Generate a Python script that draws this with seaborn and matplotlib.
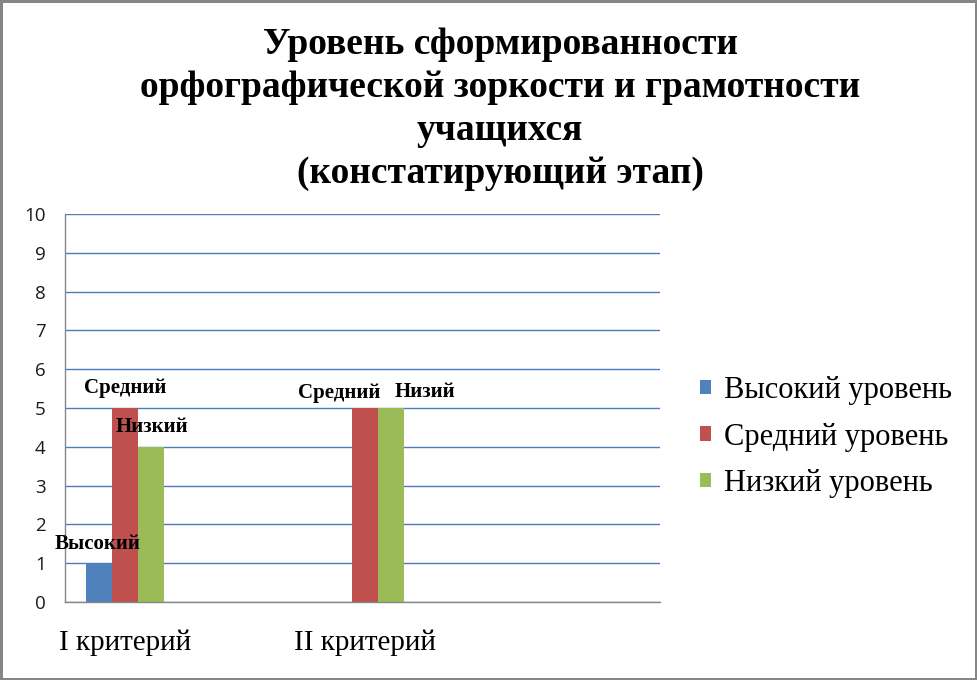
## arrays and tables
import numpy as np
import pandas as pd
## visualisation
import matplotlib
matplotlib.use('Agg')
from matplotlib import pyplot as plt
import seaborn as sns

## data
criteria = ['I критерий', 'II критерий']
levels = ['Высокий уровень', 'Средний уровень', 'Низкий уровень']
high = [1, 0]
middle = [5, 5]
low = [4, 5]
colors = ['#4F81BD', '#C0504D', '#9BBB59']
title = ('Уровень сформированности\n'
         'орфографической зоркости и грамотности\n'
         'учащихся\n'
         '(констатирующий этап)')

## bar labels: (criterion, level, text, pixel offset)
bar_labels = [
    (0, 0, 'Высокий', (-1, 19)),
    (0, 1, 'Средний', (0, 20)),
    (0, 2, 'Низкий', (1, 20)),
    (1, 1, 'Средний', (-26, 15)),
    (1, 2, 'Низий', (34, 16)),
]

d = pd.DataFrame({
    'criterion': np.repeat(criteria, 3),
    'level': levels * 2,
    'value': [v for pair in zip(high, middle, low) for v in pair],
})

sns.set_style('white')
plt.rcParams['font.family'] = ['Liberation Serif', 'DejaVu Serif']
plt.rcParams['text.color'] = 'black'

fig = plt.figure(figsize=(9.77, 6.8), dpi=100)
fig.patch.set_edgecolor('#868686')
fig.patch.set_linewidth(2.5)
ax = fig.add_axes([65/977, 1-602/680, 595/977, 388/680])

sns.barplot(
    data=d, x='criterion', y='value', hue='level',
    hue_order=levels, palette=colors, width=0.325,
    saturation=1, linewidth=0, ax=ax, legend=True,
)

ax.set_ylim(0, 10)
ax.set_xlim(-0.25, 2.23)
ax.set_yticks(range(0, 11))
ax.yaxis.grid(True, color='#4A7EBB', linewidth=1)
ax.set_axisbelow(True)
ax.set_xlabel('')
ax.set_ylabel('')
for side in ['top', 'right']:
    ax.spines[side].set_visible(False)
for side in ['left', 'bottom']:
    ax.spines[side].set_color('#868686')
    ax.spines[side].set_linewidth(1)
ax.tick_params(axis='both', length=0)
ax.tick_params(axis='y', pad=14)
ax.tick_params(axis='x', pad=20)
for t in ax.get_yticklabels():
    t.set_fontfamily(['Open Sans', 'DejaVu Sans'])
    t.set_fontsize(13.5)
    t.set_color('#1a1a1a')
for t in ax.get_xticklabels():
    t.set_fontsize(21)
    t.set_color('black')

## data labels above bars
for ci, li, text, off in bar_labels:
    cont = ax.containers[li]
    bar = cont.patches[ci]
    ax.annotate(
        text,
        xy=(bar.get_x() + bar.get_width()/2, bar.get_height()),
        xytext=off, textcoords='offset pixels',
        ha='center', va='center', fontsize=15, fontweight='bold',
    )

## legend on the right
handles, labs = ax.get_legend_handles_labels()
leg = fig.legend(
    handles, labs, loc='center left', bbox_to_anchor=(700/977, 1-437/680),
    frameon=False, fontsize=22, handlelength=0.36, handleheight=0.36,
    handletextpad=0.43, labelspacing=0.57, borderpad=0, borderaxespad=0,
)
ax.get_legend().remove()

fig.text(0.512, 1-27/680, title, ha='center', va='top',
         fontsize=27, fontweight='bold', linespacing=1.3)

fig.savefig('out.png', dpi=100)
